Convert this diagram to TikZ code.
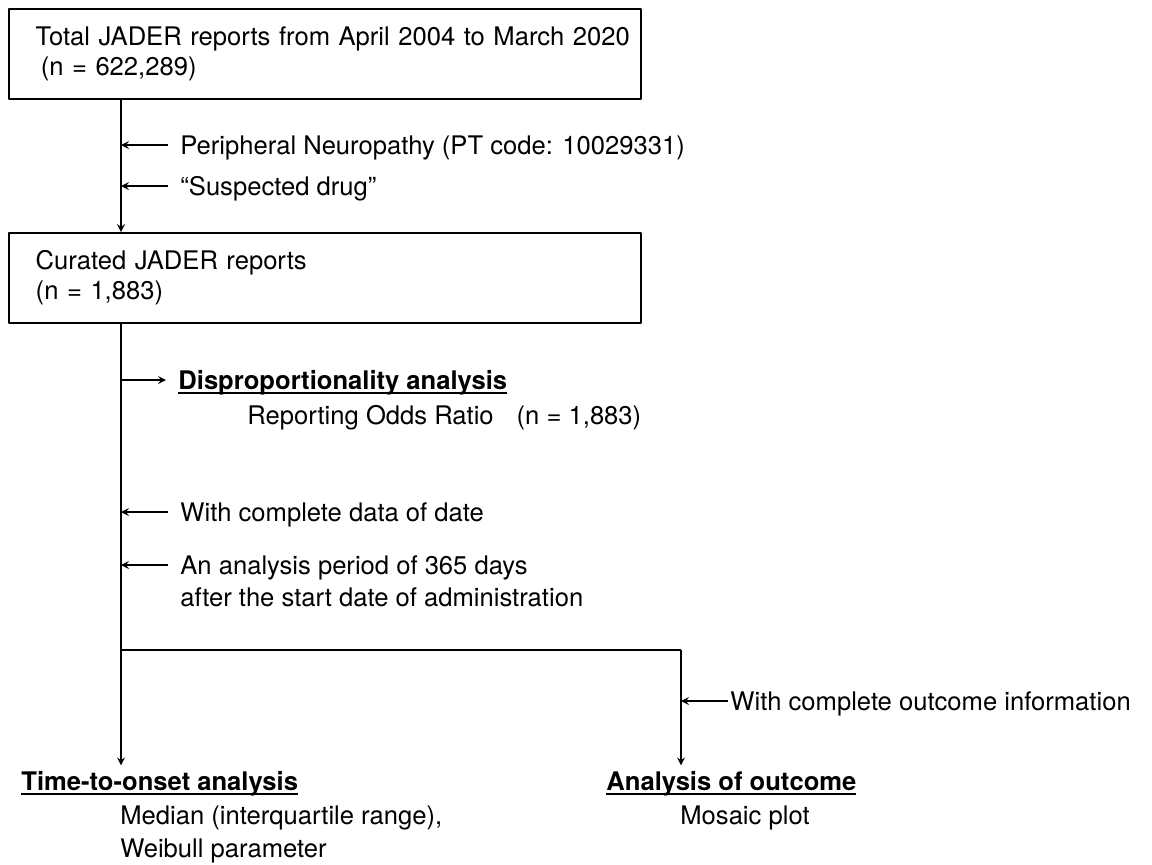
\documentclass[tikz,border=0pt]{standalone}
\usepackage{fontspec}
\setmainfont{TeX Gyre Heros}
\usetikzlibrary{positioning}
\newcommand{\ulhead}[1]{\setbox0\hbox{#1}\rlap{\rule[-2.3pt]{\wd0}{0.8pt}}\box0}

\begin{document}
\begin{tikzpicture}[x=0.5pt,y=-0.5pt,line join=round,>=stealth,
    font=\fontsize{12.8}{15}\selectfont]
    \tikzset{
        box/.style={draw,line width=0.75pt,anchor=north west,text width=306pt,
            inner xsep=5pt,minimum height=45pt,align=left,
            execute at begin node={\leftskip=8.5pt}},
        txt/.style={anchor=west,inner sep=0pt,text height=9.2pt,text depth=0pt},
        head/.style={txt,font=\fontsize{12.8}{15}\selectfont\bfseries},
        link/.style={->,line width=0.75pt}
    }
    \useasboundingbox (0,0) rectangle (1152,864);
    % boxes
    \node[box] (total) at (8,8) {Total JADER reports from April 2004 to March 2020\\
        \hspace*{2.5pt}(n = 622,289)};
    \node[box] (curated) at (8,232) {Curated JADER reports\\(n = 1,883)};
    % side notes
    \node[txt] (neuro) at (180,145) {Peripheral Neuropathy (PT code: 10029331)};
    \node[txt] (susp) at (180,186) {“Suspected drug”};
    \node[head] (dispro) at (178,380) {\ulhead{Disproportionality analysis}};
    \node[txt] (ror) at (247,415) {Reporting Odds Ratio\hspace{0.9em}(n = 1,883)};
    \node[txt] (cdate) at (180,512) {With complete data of date};
    \node[txt] (period) at (180,565) {An analysis period of 365 days};
    \node[txt] (period2) at (180,597) {after the start date of administration};
    \node[txt] (outc) at (730,701) {With complete outcome information};
    % results
    \node[head] (tto) at (21,781) {\ulhead{Time-to-onset analysis}};
    \node[txt] (median) at (120,815) {Median (interquartile range),};
    \node[txt] (weib) at (120,848) {Weibull parameter};
    \node[head] (aoo) at (606,781) {\ulhead{Analysis of outcome}};
    \node[txt] (mosaic) at (680,815) {Mosaic plot};
    % trunk
    \coordinate (split) at (121,650);
    \coordinate (fork) at (681,650);
    \draw[link] (total.south -| split) -- (curated.north -| split);
    \draw[line width=0.75pt] (curated.south -| split) -- (split) -- (fork);
    \draw[link,shorten >=3pt] (split) -- (split |- tto.north);
    \draw[link,shorten >=3pt] (fork) -- (fork |- aoo.north);
    % arrows to and from the trunk
    \foreach \n in {neuro,susp,cdate,period}
        \draw[link,shorten <=6pt] (\n.west) -- (\n.west -| split);
    \draw[link,shorten >=6pt] (dispro.west -| split) -- (dispro.west);
    \draw[link,shorten <=1pt] (outc.west) -- (outc.west -| fork);
\end{tikzpicture}
\end{document}
